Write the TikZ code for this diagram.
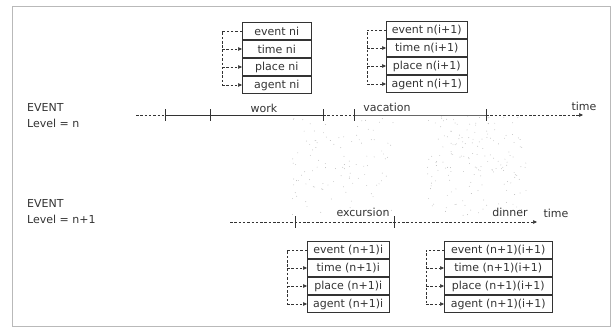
\documentclass[tikz,border=0pt]{standalone}
\usepackage{fontspec}
\setmainfont{DejaVu Sans}
\usetikzlibrary{positioning,arrows.meta}

\tikzset{
  slot/.style={draw=black!80, line width=0.5pt, inner sep=0pt, minimum height=17.5pt,
    font=\fontsize{11}{12}\selectfont, text=black!80},
  link/.style={draw=black!80, dash pattern=on 2.5pt off 1.8pt, line width=0.55pt},
  feed/.style={link, -{Triangle[length=4pt,width=3.5pt]}},
  lbl/.style={font=\fontsize{11}{16}\selectfont, text=black!80, inner sep=0pt},
}

\begin{document}
\begin{tikzpicture}[x=1pt, y=-1pt]
    \useasboundingbox (0,0) rectangle (613,328);

    % Frame
    \draw[gray!55, line width=0.6pt] (12,6) rectangle (610,326);

    % Stippled projection areas
    \pgfmathsetseed{11}
    \foreach \k in {1,...,110}
        \fill[gray!55] ({292+102*rnd},{118+97*rnd}) circle (0.45pt);
    \foreach \k in {1,...,170}
        \fill[gray!55] ({425+102*rnd},{116+100*rnd}) circle (0.45pt);

    % Level labels
    \node[lbl, align=left, anchor=north west] (lvn) at (27,103) {EVENT\\Level = n};
    \node[lbl, align=left, anchor=north west] (lvm) at (27,199) {EVENT\\Level = n+1};

    % Time line, level n
    \coordinate (n0) at (136,115);
    \coordinate (n1) at (165,115);
    \coordinate (n2) at (210,115);
    \coordinate (n3) at (323,115);
    \coordinate (n4) at (354,115);
    \coordinate (n5) at (486,115);
    \coordinate (n6) at (583,115);
    \draw[link] (n0) -- (n1);
    \draw[black!80, line width=0.5pt] (n1) -- (n3);
    \draw[link] (n3) -- (n4);
    \draw[black!60, line width=0.6pt] (n4) -- (n5);
    \draw[feed] (n5) -- (n6);
    \foreach \t in {n1,n2,n3,n4,n5}
        \draw[black!80, line width=0.5pt] ([yshift=-6pt]\t) -- ([yshift=6pt]\t);
    \node[lbl] (work) at (264,108) {work};
    \node[lbl] (vacation) at (387,107) {vacation};
    \node[lbl] (timen) at (584,106) {time};

    % Time line, level n+1
    \coordinate (m0) at (230,222);
    \coordinate (m1) at (295,222);
    \coordinate (m2) at (394,222);
    \coordinate (m3) at (537,222);
    \draw[feed] (m0) -- (m3);
    \foreach \t in {m1,m2}
        \draw[black!80, line width=0.5pt] ([yshift=-6pt]\t) -- ([yshift=6pt]\t);
    \node[lbl] (excursion) at (363,212) {excursion};
    \node[lbl] (dinner) at (510,212) {dinner};
    \node[lbl] (timem) at (556,213) {time};

    % Record ni
    \node[slot, minimum width=69pt, anchor=north west] (ev1) at (242,22) {event ni};
    \node[slot, minimum width=69pt, below=0pt of ev1] (tm1) {time ni};
    \node[slot, minimum width=69pt, below=0pt of tm1] (pl1) {place ni};
    \node[slot, minimum width=69pt, below=0pt of pl1] (ag1) {agent ni};
    \coordinate (k1) at (222,0);
    \draw[link] (ev1.west) -- (k1 |- ev1.west) -- (k1 |- ag1.west);
    \foreach \r in {tm1,pl1,ag1}
        \draw[feed] (k1 |- \r.west) -- (\r.west);

    % Record n(i+1)
    \node[slot, minimum width=81pt, anchor=north west] (ev2) at (386,21) {event n(i+1)};
    \node[slot, minimum width=81pt, below=0pt of ev2] (tm2) {time n(i+1)};
    \node[slot, minimum width=81pt, below=0pt of tm2] (pl2) {place n(i+1)};
    \node[slot, minimum width=81pt, below=0pt of pl2] (ag2) {agent n(i+1)};
    \coordinate (k2) at (367,0);
    \draw[link] (ev2.west) -- (k2 |- ev2.west) -- (k2 |- ag2.west);
    \foreach \r in {tm2,pl2,ag2}
        \draw[feed] (k2 |- \r.west) -- (\r.west);

    % Record (n+1)i
    \node[slot, minimum width=82pt, anchor=north west] (ev3) at (307,241) {event (n+1)i};
    \node[slot, minimum width=82pt, below=0pt of ev3] (tm3) {time (n+1)i};
    \node[slot, minimum width=82pt, below=0pt of tm3] (pl3) {place (n+1)i};
    \node[slot, minimum width=82pt, below=0pt of pl3] (ag3) {agent (n+1)i};
    \coordinate (k3) at (287,0);
    \draw[link] (ev3.west) -- (k3 |- ev3.west) -- (k3 |- ag3.west);
    \foreach \r in {tm3,pl3,ag3}
        \draw[feed] (k3 |- \r.west) -- (\r.west);

    % Record (n+1)(i+1)
    \node[slot, minimum width=108pt, anchor=north west] (ev4) at (444,241) {event (n+1)(i+1)};
    \node[slot, minimum width=108pt, below=0pt of ev4] (tm4) {time (n+1)(i+1)};
    \node[slot, minimum width=108pt, below=0pt of tm4] (pl4) {place (n+1)(i+1)};
    \node[slot, minimum width=108pt, below=0pt of pl4] (ag4) {agent (n+1)(i+1)};
    \coordinate (k4) at (426,0);
    \draw[link] (ev4.west) -- (k4 |- ev4.west) -- (k4 |- ag4.west);
    \foreach \r in {tm4,pl4,ag4}
        \draw[feed] (k4 |- \r.west) -- (\r.west);

\end{tikzpicture}
\end{document}
